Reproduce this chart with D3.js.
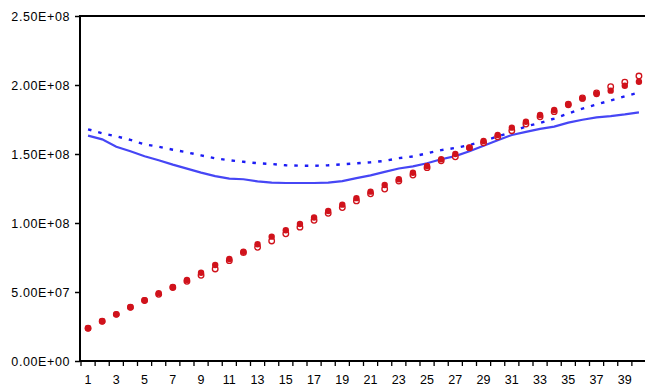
<!DOCTYPE html>
<html>
<head>
<meta charset="utf-8">
<script src="https://cdn.jsdelivr.net/npm/d3@7"></script>
<style>
  html, body { margin: 0; padding: 0; background: #fff; }
  svg { display: block; }
  text { font-family: "Liberation Sans", Arial, sans-serif; }
</style>
</head>
<body>
<svg id="chart" width="645" height="389"></svg>
<script>
const categories = d3.range(1, 41).map(String);

const redFilled = [2.37e7, 2.88e7, 3.38e7, 3.89e7, 4.40e7, 4.91e7, 5.36e7, 5.87e7, 6.40e7, 6.96e7,
  7.39e7, 7.92e7, 8.46e7, 9.01e7, 9.47e7, 9.93e7, 1.040e8, 1.087e8, 1.133e8, 1.180e8,
  1.227e8, 1.275e8, 1.317e8, 1.364e8, 1.413e8, 1.462e8, 1.500e8, 1.546e8, 1.594e8, 1.638e8,
  1.691e8, 1.734e8, 1.783e8, 1.819e8, 1.855e8, 1.901e8, 1.935e8, 1.959e8, 1.995e8, 2.024e8];

const redOpen = [2.37e7, 2.88e7, 3.38e7, 3.89e7, 4.38e7, 4.83e7, 5.33e7, 5.78e7, 6.21e7, 6.67e7,
  7.27e7, 7.85e7, 8.24e7, 8.70e7, 9.22e7, 9.70e7, 1.020e8, 1.070e8, 1.112e8, 1.160e8,
  1.212e8, 1.246e8, 1.304e8, 1.348e8, 1.401e8, 1.451e8, 1.480e8, 1.546e8, 1.582e8, 1.625e8,
  1.669e8, 1.717e8, 1.770e8, 1.807e8, 1.860e8, 1.906e8, 1.942e8, 1.988e8, 2.020e8, 2.065e8];

const blueSolid = [1.633e8, 1.606e8, 1.553e8, 1.520e8, 1.484e8, 1.455e8, 1.423e8, 1.394e8, 1.365e8, 1.340e8,
  1.321e8, 1.317e8, 1.302e8, 1.292e8, 1.290e8, 1.290e8, 1.290e8, 1.292e8, 1.303e8, 1.325e8,
  1.345e8, 1.370e8, 1.395e8, 1.410e8, 1.433e8, 1.462e8, 1.485e8, 1.520e8, 1.560e8, 1.600e8,
  1.638e8, 1.660e8, 1.682e8, 1.698e8, 1.727e8, 1.748e8, 1.766e8, 1.775e8, 1.787e8, 1.802e8];

const blueDotted = [1.679e8, 1.650e8, 1.628e8, 1.602e8, 1.570e8, 1.553e8, 1.531e8, 1.512e8, 1.490e8, 1.469e8,
  1.455e8, 1.444e8, 1.433e8, 1.428e8, 1.418e8, 1.415e8, 1.415e8, 1.418e8, 1.425e8, 1.433e8,
  1.440e8, 1.450e8, 1.470e8, 1.482e8, 1.505e8, 1.528e8, 1.544e8, 1.565e8, 1.595e8, 1.627e8,
  1.660e8, 1.700e8, 1.725e8, 1.757e8, 1.793e8, 1.829e8, 1.859e8, 1.888e8, 1.918e8, 1.945e8];

const yTicks = [0, 5e7, 1e8, 1.5e8, 2e8, 2.5e8];
const yTickLabels = ["0.00E+00", "5.00E+07", "1.00E+08", "1.50E+08", "2.00E+08", "2.50E+08"];
const xTickLabels = categories.filter((d, i) => i % 2 === 0);

(function () {
const svg = d3.select("#chart");
const mLeft = 81, mRight = 646, mTop = 16, mBottom = 361;

const x = d3.scaleBand().domain(categories).range([mLeft, mRight]).padding(0);
const y = d3.scaleLinear().domain([0, 2.5e8]).range([mBottom, mTop]);
const cx = d => x(d) + x.bandwidth() / 2;

// Lines
const line = d3.line().x((d, i) => cx(categories[i])).y(d => y(d));

svg.append("path").datum(blueSolid)
  .attr("d", line).attr("fill", "none")
  .attr("stroke", "#4646f5").attr("stroke-width", 2.2);

svg.append("path").datum(blueDotted)
  .attr("d", line).attr("fill", "none")
  .attr("stroke", "#1c1cf5").attr("stroke-width", 2.4)
  .attr("stroke-dasharray", "3.5,7");

// Markers: open first, filled on top
svg.append("g").selectAll("circle").data(redOpen).join("circle")
  .attr("cx", (d, i) => cx(categories[i])).attr("cy", d => y(d))
  .attr("r", 2.8).attr("fill", "#fff")
  .attr("stroke", "#d0121b").attr("stroke-width", 1.3);

svg.append("g").selectAll("circle").data(redFilled).join("circle")
  .attr("cx", (d, i) => cx(categories[i])).attr("cy", d => y(d))
  .attr("r", 3.2).attr("fill", "#d0121b");

// Y axis
const yAxis = d3.axisLeft(y).tickValues(yTicks)
  .tickFormat((d, i) => yTickLabels[i]).tickSize(5).tickPadding(5);
const gy = svg.append("g").attr("transform", `translate(${mLeft - 1},0)`).call(yAxis);
gy.select(".domain").remove();
gy.selectAll(".tick line").attr("stroke", "#000").attr("stroke-width", 1.5);
gy.selectAll(".tick text").attr("font-size", 12.5).attr("fill", "#000")
  .attr("letter-spacing", "0.6px")
  .attr("font-family", "'Liberation Sans', Arial, sans-serif");

// X axis (labels at odd categories, ticks at band boundaries)
const xAxis = d3.axisBottom(x).tickValues(xTickLabels).tickSize(0).tickPadding(14);
const gx = svg.append("g").attr("transform", `translate(0,${mBottom})`).call(xAxis);
gx.select(".domain").remove();
gx.selectAll(".tick text").attr("font-size", 12.5).attr("fill", "#000")
  .attr("font-family", "'Liberation Sans', Arial, sans-serif");

svg.append("g").selectAll("line").data(categories).join("line")
  .attr("x1", d => x(d)).attr("x2", d => x(d))
  .attr("y1", mBottom).attr("y2", mBottom + 5)
  .attr("stroke", "#000").attr("stroke-width", 1.3);

// Frame lines: left axis, top border, bottom axis
svg.append("line").attr("x1", mLeft - 1).attr("x2", mLeft - 1).attr("y1", mTop - 1).attr("y2", mBottom + 1)
  .attr("stroke", "#000").attr("stroke-width", 2);
svg.append("line").attr("x1", mLeft - 2).attr("x2", 645).attr("y1", mTop).attr("y2", mTop)
  .attr("stroke", "#000").attr("stroke-width", 2);
svg.append("line").attr("x1", mLeft - 2).attr("x2", 645).attr("y1", mBottom).attr("y2", mBottom)
  .attr("stroke", "#000").attr("stroke-width", 2);
})();
</script>
</body>
</html>
